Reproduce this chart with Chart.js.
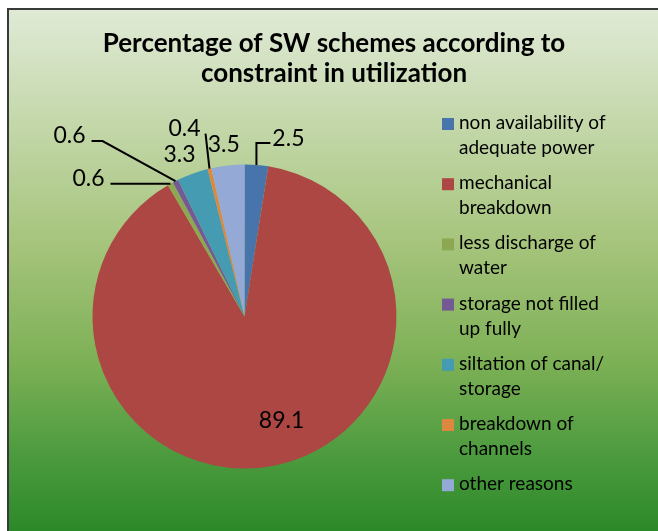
<!DOCTYPE html>
<html>
<head>
<meta charset="utf-8">
<script src="https://cdn.jsdelivr.net/npm/chart.js@4.4.1/dist/chart.umd.min.js"></script>
<style>
  html, body { margin: 0; padding: 0; background: #fff; overflow: hidden; }
  #wrap { width: 658px; height: 531px; }
</style>
</head>
<body>
<div id="wrap"><canvas id="chartCanvas" width="658" height="531"></canvas></div>
<script>
// ── Data ──
var titleLines = ['Percentage of SW schemes according to', 'constraint in utilization'];
var categories = [
  'non availability of adequate power',
  'mechanical breakdown',
  'less discharge of water',
  'storage not filled up fully',
  'siltation of canal/storage',
  'breakdown of channels',
  'other reasons'
];
// how the legend wraps each category
var legendLines = [
  ['non availability of', 'adequate power'],
  ['mechanical', 'breakdown'],
  ['less discharge of', 'water'],
  ['storage not filled', 'up fully'],
  ['siltation of canal/', 'storage'],
  ['breakdown of', 'channels'],
  ['other reasons']
];
var values = [2.5, 89.1, 0.6, 0.6, 3.3, 0.4, 3.5];

// ── Styles ──
var sliceColors = ['#4674AB', '#AC4744', '#8DA852', '#745A94', '#449BB2', '#DE873F', '#94A9D6'];
var FONT = 'Lato, "Open Sans", sans-serif';

// label placement, relative to the midpoint of each slice's outer edge
var labelPlacement = [
  { dx: 32, dy: -27, leader: 'up' },
  { dx: 9, dy: -46, leader: null },
  { dx: -82, dy: -6, leader: 'left' },
  { dx: -106, dy: -46, leader: 'kink' },
  { dx: -13, dy: -20, leader: null },
  { dx: -25, dy: -41, leader: 'line' },
  { dx: -4, dy: -21, leader: null }
];

// ── Frame, background gradient, title, legend, data labels ──
var decorPlugin = {
  id: 'decor',
  beforeDraw: function (chart) {
    var ctx = chart.ctx, w = chart.width, h = chart.height;
    ctx.save();
    ctx.fillStyle = '#ffffff';
    ctx.fillRect(0, 0, w, h);
    var g = ctx.createLinearGradient(0, 9, 0, h);
    g.addColorStop(0, '#e0ead6');
    g.addColorStop(0.45, '#a6c47c');
    g.addColorStop(0.68, '#7cb055');
    g.addColorStop(0.86, '#4b9a3e');
    g.addColorStop(1, '#2c8928');
    ctx.fillStyle = g;
    ctx.fillRect(8, 9, w, h);
    ctx.strokeStyle = '#3a3a3a';
    ctx.lineWidth = 2;
    ctx.beginPath();
    ctx.moveTo(8, h + 5);
    ctx.lineTo(8, 9);
    ctx.lineTo(w + 5, 9);
    ctx.stroke();
    ctx.restore();
  },
  afterDatasetsDraw: function (chart) {
    var ctx = chart.ctx;
    var arcs = chart.getDatasetMeta(0).data;
    ctx.save();
    ctx.font = '23px ' + FONT;
    ctx.fillStyle = '#000';
    ctx.strokeStyle = '#000';
    ctx.lineWidth = 2;
    ctx.textAlign = 'center';
    ctx.textBaseline = 'alphabetic';
    arcs.forEach(function (arc, i) {
      var p = arc.getProps(['x', 'y', 'startAngle', 'endAngle', 'outerRadius'], true);
      var mid = (p.startAngle + p.endAngle) / 2;
      var ax = p.x + Math.cos(mid) * p.outerRadius;
      var ay = p.y + Math.sin(mid) * p.outerRadius;
      var pl = labelPlacement[i];
      var cx = ax + pl.dx, cy = ay + pl.dy;
      var txt = values[i].toFixed(1);
      var tw = ctx.measureText(txt).width;

      ctx.beginPath();
      if (pl.leader === 'up') {
        ctx.moveTo(ax, ay);
        ctx.lineTo(ax, cy + 5);
        ctx.lineTo(cx - tw / 2 - 2, cy + 5);
      } else if (pl.leader === 'left') {
        ctx.moveTo(ax, ay);
        ctx.lineTo(cx + tw / 2 + 6, ay);
      } else if (pl.leader === 'kink') {
        ctx.moveTo(ax, ay);
        ctx.lineTo(cx + tw / 2 + 17, cy + 6);
        ctx.lineTo(cx + tw / 2 + 6, cy + 6);
      } else if (pl.leader === 'line') {
        ctx.moveTo(ax, ay);
        ctx.lineTo(cx + tw / 2 + 5, cy + 6);
      }
      if (pl.leader) ctx.stroke();

      ctx.fillText(txt, cx, cy + 8);
    });
    ctx.restore();
  },
  afterDraw: function (chart) {
    var ctx = chart.ctx;
    ctx.save();
    // title
    ctx.fillStyle = '#000';
    ctx.textAlign = 'center';
    ctx.textBaseline = 'alphabetic';
    ctx.font = 'bold 26px ' + FONT;
    titleLines.forEach(function (line, i) {
      ctx.fillText(line, 334, 52 + i * 30);
    });
    // legend
    ctx.textAlign = 'left';
    ctx.font = '19px ' + FONT;
    legendLines.forEach(function (lines, i) {
      var my = 124 + i * 60.2;
      ctx.fillStyle = sliceColors[i];
      ctx.fillRect(442, my - 6, 12, 12);
      ctx.fillStyle = '#000';
      lines.forEach(function (t, j) {
        ctx.fillText(t, 459, my + 5 + j * 25);
      });
    });
    ctx.restore();
  }
};

var ctx = document.getElementById('chartCanvas').getContext('2d');
var chartInstance = new Chart(ctx, {
  type: 'pie',
  data: {
    labels: categories,
    datasets: [{
      data: values,
      backgroundColor: sliceColors,
      borderWidth: 0
    }]
  },
  options: {
    responsive: false,
    animation: false,
    devicePixelRatio: 1,
    layout: { padding: { left: 92.5, right: 261.5, top: 164.5, bottom: 62.5 } },
    plugins: {
      legend: { display: false },
      title: { display: false },
      tooltip: { enabled: false }
    }
  },
  plugins: [decorPlugin]
});
</script>
</body>
</html>
